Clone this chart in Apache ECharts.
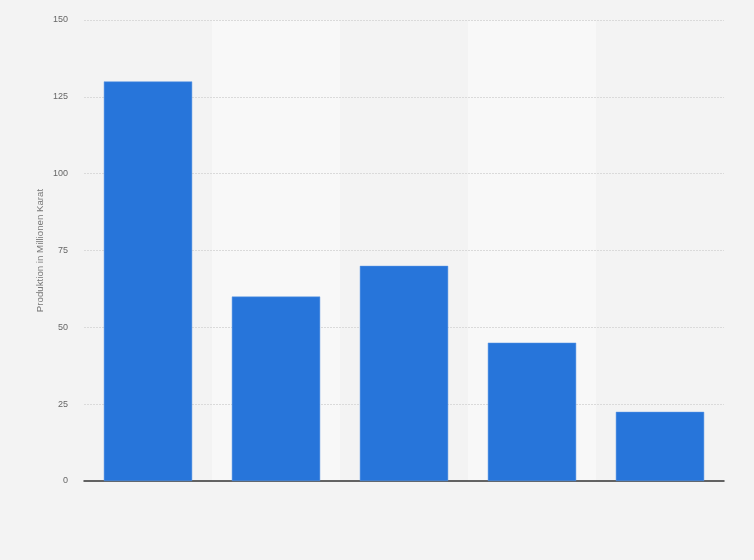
<!DOCTYPE html>
<html>
<head>
<meta charset="utf-8">
<script src="https://cdn.jsdelivr.net/npm/echarts@6/dist/echarts.min.js"></script>
<style>
    html, body { margin: 0; padding: 0; background: #f3f3f3; }
    #chart { width: 754px; height: 560px; }
</style>
</head>
<body>
<div id="chart"></div>
<script>
// category labels are not shown in the picture
const categories = ['1', '2', '3', '4', '5'];
const production = [130, 60, 70, 45, 22.5];
const yTicks = { min: 0, max: 150, interval: 25 };

const myChart = echarts.init(document.getElementById('chart'));

const option = {
    backgroundColor: '#f3f3f3',
    animation: false,
    grid: { left: 84, right: 30, top: 20, bottom: 79 },
    xAxis: {
        type: 'category',
        data: categories,
        z: 0,
        axisLine: { lineStyle: { color: '#333', width: 1.5 } },
        axisTick: { show: false },
        axisLabel: { show: false },
        splitArea: {
            show: true,
            areaStyle: { color: ['rgba(0,0,0,0)', '#f8f8f8'] }
        }
    },
    yAxis: {
        type: 'value',
        z: 1,
        min: yTicks.min,
        max: yTicks.max,
        interval: yTicks.interval,
        name: 'Produktion in Millionen Karat',
        nameLocation: 'middle',
        nameMoveOverlap: false,
        nameGap: 39,
        nameTextStyle: { color: '#777', fontSize: 9.7, fontFamily: 'Arial, Liberation Sans' },
        axisLine: { show: false },
        axisTick: { show: false },
        axisLabel: { color: '#666', fontSize: 9, margin: 16, fontFamily: 'Arial, Liberation Sans' },
        splitLine: { showMinLine: false, lineStyle: { color: '#dadada', type: [2, 1] } }
    },
    series: [
        {
            type: 'bar',
            z: 2,
            data: production,
            barWidth: '69%',
            itemStyle: {
                color: '#2775da',
                borderColor: '#5b97e4',
                borderWidth: 0.5
            }
        }
    ]
};

myChart.setOption(option);
</script>
</body>
</html>
